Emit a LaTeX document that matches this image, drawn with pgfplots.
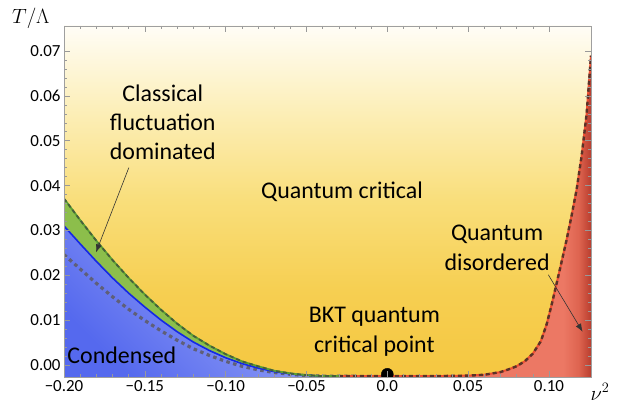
\documentclass[border=0pt]{standalone}
\usepackage{pgfplots}
\pgfplotsset{compat=1.18}
\usepackage{fontspec}
\setmainfont{Carlito}
\usetikzlibrary{arrows.meta}
\definecolor{bg0}{RGB}{245,199,64}
\definecolor{bg1}{RGB}{246,207,82}
\definecolor{bg2}{RGB}{249,222,122}
\definecolor{bg3}{RGB}{252,238,182}
\definecolor{bg4}{RGB}{255,253,246}
\definecolor{red1}{RGB}{236,120,100}
\definecolor{red2}{RGB}{222,100,80}
\definecolor{red3}{RGB}{185,62,46}
\definecolor{bluedark}{RGB}{85,105,238}
\definecolor{bluelight}{RGB}{172,182,250}
\definecolor{bluel}{RGB}{20,40,230}
\definecolor{greenf}{RGB}{140,190,75}
\definecolor{greenl}{RGB}{90,160,50}
\definecolor{greend}{RGB}{70,95,60}
\definecolor{redl}{RGB}{240,80,50}
\definecolor{redd}{RGB}{90,50,40}
\definecolor{grayd}{RGB}{95,95,120}
\pgfdeclareverticalshading{bgshade}{100bp}{color(0bp)=(bg0); color(25bp)=(bg0); color(37.5bp)=(bg1); color(50bp)=(bg2); color(62.5bp)=(bg3); color(75bp)=(bg4); color(100bp)=(bg4)}
\pgfdeclarehorizontalshading{redshade}{100bp}{color(0bp)=(red1); color(25bp)=(red1); color(66bp)=(red1); color(71bp)=(red2); color(75bp)=(red3); color(100bp)=(red3)}
\begin{document}
\begin{tikzpicture}
\begin{axis}[
  scale only axis, width=527bp, height=351bp,
  xmin=-0.2, xmax=0.126, ymin=-0.0027, ymax=0.0756,
  xtick={-0.2,-0.15,-0.1,-0.05,0,0.05,0.1},
  xticklabels={−0.20,−0.15,−0.10,−0.05,0.0,0.05,0.10},
  ytick={0,0.01,0.02,0.03,0.04,0.05,0.06,0.07},
  yticklabels={0.00,0.01,0.02,0.03,0.04,0.05,0.06,0.07},
  scaled y ticks=false, scaled x ticks=false,
  minor x tick num=4, minor y tick num=4,
  tick align=inside,
  major tick length=6bp, minor tick length=3bp,
  every tick/.style={gray!80, line width=0.6bp},
  axis line style={gray!75, line width=0.9bp},
  ticklabel style={font=\fontsize{17}{17}\selectfont},
  clip mode=individual,
  clip marker paths=true,
  axis background/.style={shading=bgshade},
  axis on top,
]
% blue condensed region
\addplot[draw=none, top color=bluelight, bottom color=bluedark, shading angle=-45] coordinates {
(-0.200,0.0310) (-0.190,0.0270) (-0.180,0.0231) (-0.170,0.0194) (-0.160,0.0160)
(-0.150,0.0129) (-0.140,0.0100) (-0.130,0.0074) (-0.120,0.0051) (-0.110,0.0032)
(-0.100,0.0016) (-0.090,0.0003) (-0.080,-0.0007) (-0.070,-0.0015) (-0.060,-0.0020)
(-0.050,-0.0023) (-0.040,-0.0025) (-0.020,-0.0025) (-0.020,-0.0027) (-0.200,-0.0027)};
% green band
\addplot[draw=none, fill=greenf] coordinates {
(-0.200,0.0371) (-0.190,0.0323) (-0.180,0.0277) (-0.170,0.0234) (-0.160,0.0194)
(-0.150,0.0157) (-0.140,0.0123) (-0.130,0.0092) (-0.120,0.0065) (-0.110,0.0043)
(-0.100,0.0024) (-0.090,0.0008) (-0.080,-0.0003) (-0.070,-0.0013) (-0.060,-0.0019)
(-0.050,-0.0023) (-0.040,-0.0025)
(-0.040,-0.0025) (-0.050,-0.0023) (-0.060,-0.0020) (-0.070,-0.0015) (-0.080,-0.0007)
(-0.090,0.0003) (-0.100,0.0016) (-0.110,0.0032) (-0.120,0.0051) (-0.130,0.0074)
(-0.140,0.0100) (-0.150,0.0129) (-0.160,0.0160) (-0.170,0.0194) (-0.180,0.0231)
(-0.190,0.0270) (-0.200,0.0310)};
% red disordered region
\addplot[draw=none, shading=redshade] coordinates {
(0.03,-0.0025) (0.05,-0.0024) (0.06,-0.0022) (0.07,-0.0016) (0.075,-0.0010)
(0.08,-0.0003) (0.085,0.0008) (0.09,0.0025) (0.095,0.0053) (0.0986,0.0091)
(0.1015,0.0132) (0.1043,0.0175) (0.1075,0.0225) (0.1109,0.0279) (0.114,0.0333)
(0.1171,0.0391) (0.1202,0.0466) (0.1233,0.0560) (0.126,0.0690) (0.126,-0.0027) (0.03,-0.0027)};
% gray dotted
\addplot[grayd, line width=3.2bp, dash pattern=on 3.5bp off 3.5bp] coordinates {
(-0.200,0.0246) (-0.190,0.0214) (-0.180,0.0182) (-0.170,0.0152) (-0.160,0.0124)
(-0.150,0.0099) (-0.140,0.0076) (-0.130,0.0055) (-0.120,0.0036) (-0.110,0.0021)
(-0.100,0.0008) (-0.090,-0.0003) (-0.080,-0.0011) (-0.070,-0.0017) (-0.060,-0.0021)
(-0.050,-0.0024) (-0.040,-0.0025) (-0.020,-0.0025)};
% blue line
\addplot[bluel, line width=1.6bp] coordinates {
(-0.200,0.0310) (-0.190,0.0270) (-0.180,0.0231) (-0.170,0.0194) (-0.160,0.0160)
(-0.150,0.0129) (-0.140,0.0100) (-0.130,0.0074) (-0.120,0.0051) (-0.110,0.0032)
(-0.100,0.0016) (-0.090,0.0003) (-0.080,-0.0007) (-0.070,-0.0015) (-0.060,-0.0020)
(-0.050,-0.0023) (-0.040,-0.0025) (-0.010,-0.0025)};
% green boundary
\addplot[greenl, line width=1.8bp] coordinates {
(-0.200,0.0371) (-0.190,0.0323) (-0.180,0.0277) (-0.170,0.0234) (-0.160,0.0194)
(-0.150,0.0157) (-0.140,0.0123) (-0.130,0.0092) (-0.120,0.0065) (-0.110,0.0043)
(-0.100,0.0024) (-0.090,0.0008) (-0.080,-0.0003) (-0.070,-0.0013) (-0.060,-0.0019)
(-0.050,-0.0023) (-0.040,-0.0025) (-0.030,-0.0025)};
\addplot[greend, line width=1.8bp, dash pattern=on 4bp off 3bp] coordinates {
(-0.200,0.0371) (-0.190,0.0323) (-0.180,0.0277) (-0.170,0.0234) (-0.160,0.0194)
(-0.150,0.0157) (-0.140,0.0123) (-0.130,0.0092) (-0.120,0.0065) (-0.110,0.0043)
(-0.100,0.0024) (-0.090,0.0008) (-0.080,-0.0003) (-0.070,-0.0013) (-0.060,-0.0019)
(-0.050,-0.0023) (-0.040,-0.0025) (-0.030,-0.0025)};
% red boundary
\addplot[redl, line width=2bp] coordinates {
(-0.03,-0.0025) (0.03,-0.0025) (0.05,-0.0024) (0.06,-0.0022) (0.07,-0.0016) (0.075,-0.0010)
(0.08,-0.0003) (0.085,0.0008) (0.09,0.0025) (0.095,0.0053) (0.0986,0.0091)
(0.1015,0.0132) (0.1043,0.0175) (0.1075,0.0225) (0.1109,0.0279) (0.114,0.0333)
(0.1171,0.0391) (0.1202,0.0466) (0.1233,0.0560) (0.126,0.0690)};
\addplot[redd, line width=2.4bp, dash pattern=on 4bp off 3bp] coordinates {
(-0.03,-0.0025) (0.03,-0.0025) (0.05,-0.0024) (0.06,-0.0022) (0.07,-0.0016) (0.075,-0.0010)
(0.08,-0.0003) (0.085,0.0008) (0.09,0.0025) (0.095,0.0053) (0.0986,0.0091)
(0.1015,0.0132) (0.1043,0.0175) (0.1075,0.0225) (0.1109,0.0279) (0.114,0.0333)
(0.1171,0.0391) (0.1202,0.0466) (0.1233,0.0560) (0.126,0.0690)};
% BKT point
\addplot[only marks, mark=*, mark size=6bp, black] coordinates {(0,-0.0021)};
% labels
\node[align=center, font=\fontsize{24}{29.5}\selectfont] at (axis cs:-0.1389,0.0541) {Classical\\fluctuation\\dominated};
\node[font=\fontsize{24}{29.5}\selectfont] at (axis cs:-0.0280,0.0387) {Quantum critical};
\node[align=center, font=\fontsize{24}{29.5}\selectfont] at (axis cs:0.0679,0.0261) {Quantum\\disordered};
\node[align=center, font=\fontsize{24}{29.5}\selectfont] at (axis cs:-0.0080,0.0074) {BKT quantum\\critical point};
\node[font=\fontsize{24}{29.5}\selectfont] at (axis cs:-0.1642,0.0022) {Condensed};
\draw[black!80, line width=0.6bp, -{Latex[length=8bp,width=6bp]}] (axis cs:-0.1599,0.0440) -- (axis cs:-0.1802,0.0251);
\draw[black!80, line width=0.6bp, -{Latex[length=8bp,width=6bp]}] (axis cs:0.0996,0.0201) -- (axis cs:0.1208,0.0074);
\coordinate (sw) at (rel axis cs:0,0);
\coordinate (ne) at (rel axis cs:1,1);
\coordinate (tl) at (axis description cs:-0.063,1.023);
\coordinate (nl) at (axis description cs:1.017,-0.042);
\end{axis}
\node[font=\fontsize{20}{20}\selectfont] at (tl) {$T/\Lambda$};
\node[font=\fontsize{20}{20}\selectfont] at (nl) {$\nu^2$};
\pgfresetboundingbox
\path ([shift={(-64bp,-30bp)}]sw) rectangle ([shift={(29bp,26bp)}]ne);
\end{tikzpicture}
\end{document}
